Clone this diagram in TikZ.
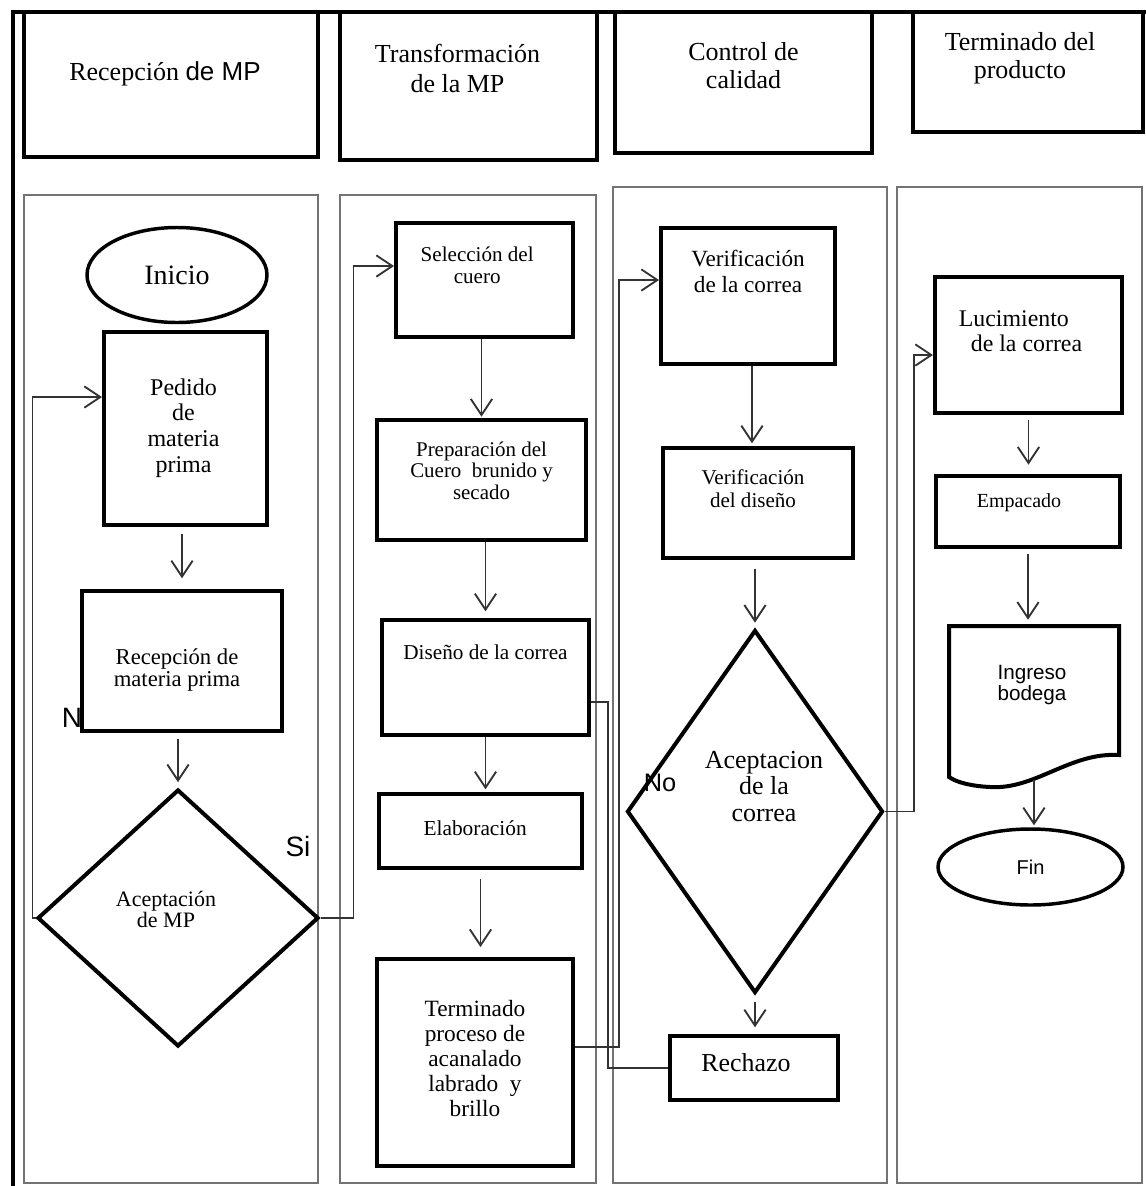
\documentclass[tikz,border=0pt]{standalone}
\usepackage{fontspec}
\setmainfont{Liberation Serif}
\newfontfamily\sansf{Liberation Sans}
\usetikzlibrary{shapes.geometric,arrows.meta}
\newcommand{\tb}[3]{\raisebox{#1}[\height][\depth]{\begin{tabular}{#2}#3\end{tabular}}}
\newcommand{\fs}[2]{\fontsize{#1}{#2}\selectfont}
\begin{document}
\begin{tikzpicture}[x=0.75pt,y=-0.75pt,
  frame/.style={line width=3.5pt},
  hdr/.style={draw, rectangle, line width=3pt, inner sep=0pt},
  lane/.style={draw=black!55, line width=1.3pt},
  proc/.style={draw, rectangle, line width=3pt, inner sep=0pt},
  ovalbox/.style={draw, ellipse, line width=2.6pt, inner sep=0pt},
  decis/.style={draw, diamond, line width=3pt, inner sep=0pt},
  conn/.style={draw=black!80, line width=1.4pt},
  arr/.style={conn, -{Straight Barb[length=12pt,width=16pt]}},
  lbl/.style={inner sep=0pt, font=\sansf\fs{21}{24}},
]
\useasboundingbox (0,0) rectangle (1146,1186);

% lanes
\draw[lane] (24,195) rectangle (318,1183);
\draw[lane] (340,195) rectangle (596,1183);
\draw[lane] (613,187) rectangle (887,1183);
\draw[lane] (897,187) rectangle (1142,1183);

% frame
\draw[frame] (13,1186) -- (13,12) -- (1146,12);

% headers
\node[hdr, minimum width=220.5pt, minimum height=108.75pt] (h1) at (171,84.5)
  {\fs{19.5}{22}\tb{7.5pt}{@{}c@{\hspace{9pt}}}{Recepción {\sansf de MP}}};
\node[hdr, minimum width=192.75pt, minimum height=111pt] (h2) at (468.5,86)
  {\fs{19.5}{22.5}\tb{11.25pt}{@{}c@{\hspace{16.5pt}}}{Transformación\\de la MP}};
\node[hdr, minimum width=192.75pt, minimum height=105.75pt] (h3) at (743.5,82.5)
  {\fs{19.5}{21}\tb{10.1pt}{@{}c@{}}{Control de\\calidad}};
\node[hdr, minimum width=172.5pt, minimum height=90pt] (h4) at (1028,72)
  {\fs{19.5}{21}\tb{9.75pt}{@{}c@{\hspace{12pt}}}{Terminado del\\producto}};

% labels
\node[lbl] (lblN) at (72,718) {N};
\node[lbl] (lblSi) at (298,846) {Si};
\node[lbl, font=\sansf\fs{19}{22}] (lblNo) at (660,783) {No};

% lane 1
\node[ovalbox, minimum width=135pt, minimum height=71.25pt, font=\fs{21}{24}] (inicio) at (177,275) {Inicio};
\node[proc, minimum width=122.25pt, minimum height=144.75pt] (pedido) at (185.5,428.5)
  {\fs{18}{19.3}\tb{0pt}{@{}c@{\hspace{3pt}}}{Pedido\\de\\materia\\prima}};
\node[proc, minimum width=150pt, minimum height=105pt] (recep) at (182,661)
  {\fs{17}{16}\tb{-7.5pt}{@{}c@{\hspace{7.5pt}}}{Recepción de\\materia prima}};
\node[decis, minimum width=210.75pt, minimum height=192.75pt] (d1) at (178,918)
  {\fs{16.5}{15.5}\tb{4.1pt}{@{}c@{\hspace{18pt}}}{Aceptación\\de MP}};

% lane 2
\node[proc, minimum width=132.75pt, minimum height=85.5pt] (sel) at (484.5,280)
  {\fs{15.8}{16.5}\tb{9pt}{@{}c@{\hspace{11pt}}}{Selección del\\cuero}};
\node[proc, minimum width=156.75pt, minimum height=90pt] (prep) at (481.5,480)
  {\fs{15.7}{16.1}\tb{5pt}{@{}c@{}}{Preparación del\\Cuero~ brunido y\\secado}};
\node[proc, minimum width=155.25pt, minimum height=86.25pt] (dis) at (485.5,677.5)
  {\fs{15.9}{18}\tb{16.9pt}{@{}c@{}}{Diseño de la correa}};
\node[proc, minimum width=152.25pt, minimum height=55.5pt] (ela) at (480.5,831)
  {\fs{16}{18}\tb{0pt}{@{}c@{\hspace{8pt}}}{Elaboración}};
\node[proc, minimum width=147pt, minimum height=155.25pt] (term) at (475,1062.5)
  {\fs{17.5}{18.75}\tb{1pt}{@{}c@{}}{Terminado\\proceso de\\acanalado\\labrado~ y\\brillo}};

% lane 3
\node[proc, minimum width=130.5pt, minimum height=102pt] (verif) at (748,296)
  {\fs{17.4}{19.5}\tb{16.5pt}{@{}c@{}}{Verificación\\de la correa}};
\node[proc, minimum width=142.5pt, minimum height=82.5pt] (vdis) at (758,503)
  {\fs{15.8}{17.25}\tb{8.6pt}{@{}c@{\hspace{7.5pt}}}{Verificación\\del diseño}};
\node[decis, minimum width=192pt, minimum height=272.25pt] (d2) at (755,811.5)
  {\fs{19.5}{20}\tb{16.5pt}{@{\hspace{13.5pt}}c@{}}{Aceptacion\\de la\\correa}};
\node[proc, minimum width=126pt, minimum height=48pt] (rech) at (754,1068)
  {\fs{19.4}{22}\tb{2pt}{@{}c@{\hspace{12pt}}}{Rechazo}};

% lane 4
\node[proc, minimum width=140.25pt, minimum height=102pt] (luc) at (1028.5,345)
  {\fs{17.9}{18.75}\tb{7.9pt}{@{}l@{\hspace{12pt}}}{Lucimiento\\\hspace*{9pt}de la correa}};
\node[proc, minimum width=138pt, minimum height=53.25pt] (emp) at (1028,511.5)
  {\fs{15}{18}\tb{6.4pt}{@{}c@{\hspace{13.5pt}}}{Empacado}};
\node[inner sep=0pt, minimum width=127.5pt, minimum height=115.5pt] (ing) at (1034,703)
  {\sansf\fs{15.5}{15.75}\tb{13pt}{@{}c@{\hspace{3pt}}}{Ingreso\\bodega}};
\draw[line width=3pt] (949,626) -- (1119,626) -- (1119,755)
  .. controls (1070,752) and (1035,790) .. (990,787)
  .. controls (970,786) and (956,782) .. (949,777) -- cycle;
\node[ovalbox, minimum width=138.75pt, minimum height=57pt, font=\sansf\fs{15}{18}] (fin) at (1030.5,867) {Fin};

% vertical arrows
\draw[arr, shorten <=5pt, shorten >=8pt] (pedido.south -| recep.north) -- (recep.north);
\draw[arr, shorten <=4.5pt, shorten >=4pt] (recep.south -| d1.north) -- (d1.north);
\draw[arr, shorten >=1pt] (sel.south -| prep.north) -- (prep.north);
\draw[arr, shorten >=5pt] (prep.south -| dis.north) -- (dis.north);
\draw[arr, shorten >=2pt] (dis.south) -- (dis.south |- ela.north);
\draw[arr, shorten <=7pt, shorten >=7.5pt] (ela.south) -- (ela.south |- term.north);
\draw[arr, shorten >=2pt] ([xshift=3pt]verif.south) -- ([xshift=3pt]verif.south |- vdis.north);
\draw[arr, shorten <=6.5pt, shorten >=4pt] (vdis.south -| d2.north) -- (d2.north);
\draw[arr, shorten <=5pt, shorten >=5pt] (d2.south) -- (d2.south |- rech.north);
\draw[arr, shorten <=4pt, shorten >=7pt] (luc.south) -- (luc.south |- emp.north);
\draw[arr, shorten <=4pt, shorten >=4.5pt] (emp.south) -- (emp.south |- ing.north);
\draw[arr, shorten >=1.5pt] (ing.south) -- (ing.south |- fin.north);

% routed connectors
\draw[arr] (d1.west) -- ++(-3,0) |- ([yshift=23.6pt]pedido.west);
\draw[arr] (d1.east) -- ++(33,0) |- ([yshift=10.5pt]sel.west);
\draw[arr] ([yshift=11.6pt]term.east) -- ++(44,0) |- ([yshift=12pt]verif.west);
\draw[conn] ([yshift=-18.4pt]dis.east) -- ++(17,0) |- (rech.west);
\draw[arr] (d2.east) -- ++(29,0) |- ([yshift=-7.5pt]luc.west);
\end{tikzpicture}
\end{document}
